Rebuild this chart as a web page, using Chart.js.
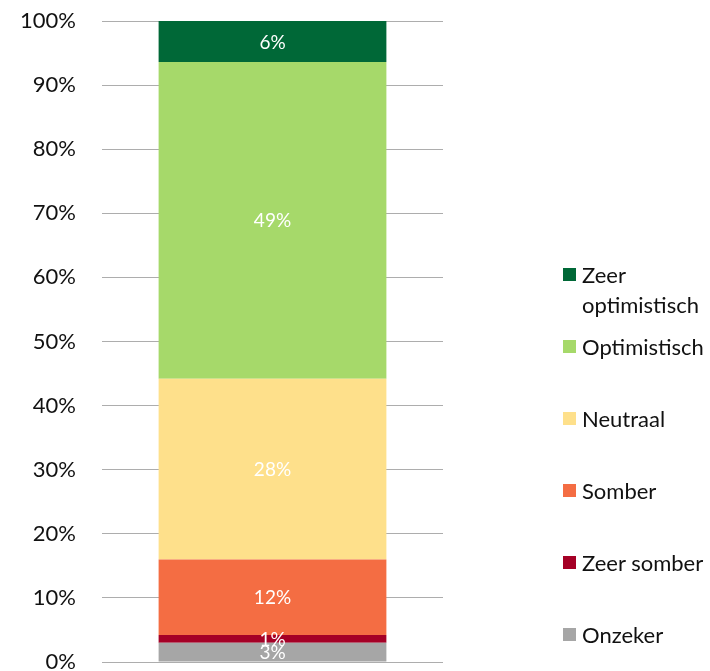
<!DOCTYPE html>
<html>
<head>
<meta charset="utf-8">
<script src="https://cdn.jsdelivr.net/npm/chart.js@4/dist/chart.umd.min.js"></script>
<style>
  html, body { margin: 0; padding: 0; background: #fff; }
  #wrap { position: relative; width: 710px; height: 671px; }
  canvas { position: absolute; left: 0; top: 0; }
  .lg { position: absolute; left: 563px; font-family: Lato, sans-serif; font-size: 22px; color: #111; line-height: 30px; }
  .lg .sw { position: absolute; left: 0; top: 8px; width: 13px; height: 13px; }
  .lg .tx { position: absolute; left: 19px; top: 0; width: 130px; }
</style>
</head>
<body>
<div id="wrap">
  <canvas id="c" width="710" height="671"></canvas>
</div>
<script>
// Data (bottom to top of the stack)
const categories = ['Totaal'];
const seriesNames = ['Onzeker', 'Zeer somber', 'Somber', 'Neutraal', 'Optimistisch', 'Zeer optimistisch'];
const seriesValues = [3.0, 1.2, 11.8, 28.2, 49.4, 6.4];
const seriesColors = ['#A6A6A6', '#A50026', '#F46D43', '#FEE08B', '#A6D96A', '#006837'];
const tickValues = [0, 10, 20, 30, 40, 50, 60, 70, 80, 90, 100];

const datasets = seriesNames.map((name, i) => ({
  label: name,
  data: [seriesValues[i]],
  backgroundColor: seriesColors[i],
  borderWidth: 0,
  barPercentage: 0.668,
  categoryPercentage: 1.0
}));

const valueLabels = {
  id: 'valueLabels',
  afterDatasetsDraw(chart) {
    const ctx = chart.ctx;
    ctx.save();
    ctx.fillStyle = '#ffffff';
    ctx.font = '19px Lato, sans-serif';
    ctx.textAlign = 'center';
    ctx.textBaseline = 'middle';
    chart.data.datasets.forEach((ds, i) => {
      const meta = chart.getDatasetMeta(i);
      meta.data.forEach((el, j) => {
        const p = el.getCenterPoint();
        ctx.fillText(Math.round(ds.data[j]) + '%', p.x, p.y + 1);
      });
    });
    ctx.restore();
  }
};

new Chart(document.getElementById('c'), {
  type: 'bar',
  data: { labels: categories, datasets },
  options: {
    responsive: false,
    animation: false,
    layout: { padding: { top: 21, bottom: 9, right: 267, left: 0 } },
    plugins: { legend: { display: false }, tooltip: { enabled: false } },
    scales: {
      x: { stacked: true, display: false },
      y: {
        stacked: true,
        min: 0, max: 100,
        afterBuildTicks(scale) { scale.ticks = tickValues.map(v => ({ value: v })); },
        afterFit(scale) {
          scale.width = 102;
          scale.paddingTop = 0;
          scale.paddingBottom = 0;
        },
        ticks: {
          callback: v => v + '%',
          color: '#111',
          font: { family: 'Lato', size: 22 },
          padding: 26
        },
        grid: { color: '#ADADAD', lineWidth: 1, drawTicks: false },
        border: { display: false }
      }
    }
  },
  plugins: [valueLabels]
});

// HTML legend, top to bottom as in the reference
const wrap = document.getElementById('wrap');
for (let i = seriesNames.length - 1; i >= 0; i--) {
  const item = document.createElement('div');
  item.className = 'lg';
  item.style.top = (635 - 72 * i - 15) + 'px';
  const sw = document.createElement('div');
  sw.className = 'sw';
  sw.style.background = seriesColors[i];
  const tx = document.createElement('div');
  tx.className = 'tx';
  tx.textContent = seriesNames[i];
  item.appendChild(sw);
  item.appendChild(tx);
  wrap.appendChild(item);
}
</script>
</body>
</html>
